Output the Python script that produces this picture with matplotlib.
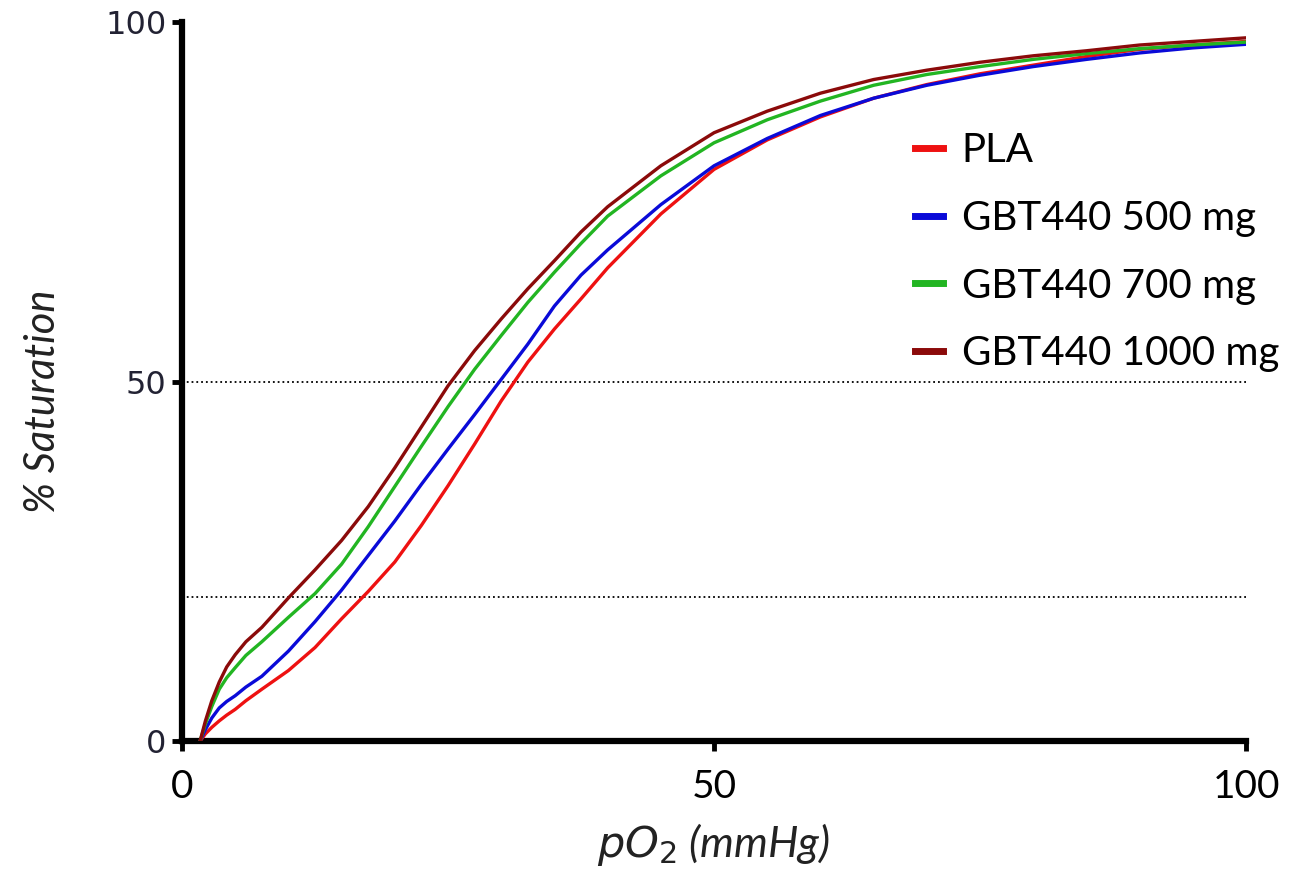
import numpy as np
import matplotlib.pyplot as plt

# pO2 (mmHg) sample points
po2 = [1.7, 2.2, 2.8, 3.5, 4.2, 5, 6, 7.5, 10, 12.5, 15, 17.5, 20, 22.5, 25, 27.5, 30, 32.5,
       35, 37.5, 40, 45, 50, 55, 60, 65, 70, 75, 80, 85, 90, 95, 100]

# % saturation
sat_pla = [0, 1.0, 1.9, 2.8, 3.6, 4.4, 5.6, 7.2, 9.8, 13, 17, 20.8, 24.9, 30, 35.5, 41.3, 47.3, 52.7,
           57.3, 61.5, 65.8, 73.3, 79.5, 83.6, 86.8, 89.4, 91.3, 92.8, 94, 95.2, 96.2, 96.8, 97.3]
sat_500 = [0, 1.6, 3.2, 4.6, 5.5, 6.3, 7.5, 9, 12.5, 16.6, 21, 25.8, 30.6, 35.7, 40.6, 45.4, 50.3, 55.2,
           60.5, 64.8, 68.3, 74.6, 80, 83.8, 87, 89.4, 91.2, 92.6, 93.8, 94.8, 95.7, 96.4, 96.9]
sat_700 = [0, 2.4, 4.8, 7.2, 8.8, 10.2, 11.9, 13.8, 17.2, 20.5, 24.6, 29.8, 35.4, 41, 46.5, 51.7, 56.4, 61,
           65.2, 69.2, 73, 78.6, 83.2, 86.4, 89, 91.2, 92.7, 93.8, 94.8, 95.6, 96.3, 96.8, 97.2]
sat_1000 = [0, 2.8, 5.6, 8.2, 10.3, 12, 13.8, 15.8, 19.9, 23.8, 27.9, 32.6, 38, 43.7, 49.4, 54.3, 58.7, 62.9,
            66.8, 70.8, 74.3, 80, 84.6, 87.6, 90.1, 92, 93.3, 94.4, 95.3, 96, 96.8, 97.3, 97.8]

labels = ['PLA', 'GBT440 500 mg', 'GBT440 700 mg', 'GBT440 1000 mg']
colors = ['#ee1111', '#0a0ad8', '#22b522', '#8b0a0a']
ref_levels = [50, 20]

fig = plt.figure(figsize=(12.89, 8.73), dpi=100)
ax = fig.add_axes([0.1412, 0.1512, 0.8255, 0.8236])

for lvl in ref_levels:
    ax.plot([0, 100], [lvl, lvl], color='black', linestyle=':', linewidth=1.3, zorder=1)

for ys, lab, c in zip([sat_pla, sat_500, sat_700, sat_1000], labels, colors):
    ax.plot(po2, ys, color=c, linewidth=2.4, label=lab, zorder=3)

ax.set_xlim(0, 100)
ax.set_ylim(0, 100)
ax.set_xticks([0, 50, 100])
ax.set_yticks([0, 50, 100])

for s in ['top', 'right']:
    ax.spines[s].set_visible(False)
for s in ['left', 'bottom']:
    ax.spines[s].set_linewidth(4.5)
    ax.spines[s].set_capstyle('projecting')

ax.tick_params(axis='both', direction='out', length=7, width=3.5, color='black')
ax.tick_params(axis='x', pad=13)
ax.tick_params(axis='y', pad=4)
for t in ax.get_xticklabels():
    t.set_fontfamily('Lato')
    t.set_fontsize(28)
for t in ax.get_yticklabels():
    t.set_fontfamily('DejaVu Sans')
    t.set_fontsize(23)
    t.set_color('#222233')

ax.set_xlabel('$\\mathit{pO}_2$ (mmHg)', fontsize=31, fontfamily='Lato', style='italic',
              labelpad=12, color='#222222')
ax.set_ylabel('% Saturation', fontsize=30, fontfamily='Lato', style='italic',
              color='#222222')
ax.yaxis.set_label_coords(-0.113, 0.472)

leg = ax.legend(loc='upper left', bbox_to_anchor=(0.655, 0.897), frameon=False,
                handlelength=0.7, handletextpad=0.45, labelspacing=0.76,
                prop={'family': 'Lato', 'size': 29})
for h in leg.get_lines():
    h.set_linewidth(5)

fig.savefig('out.png', dpi=100)
